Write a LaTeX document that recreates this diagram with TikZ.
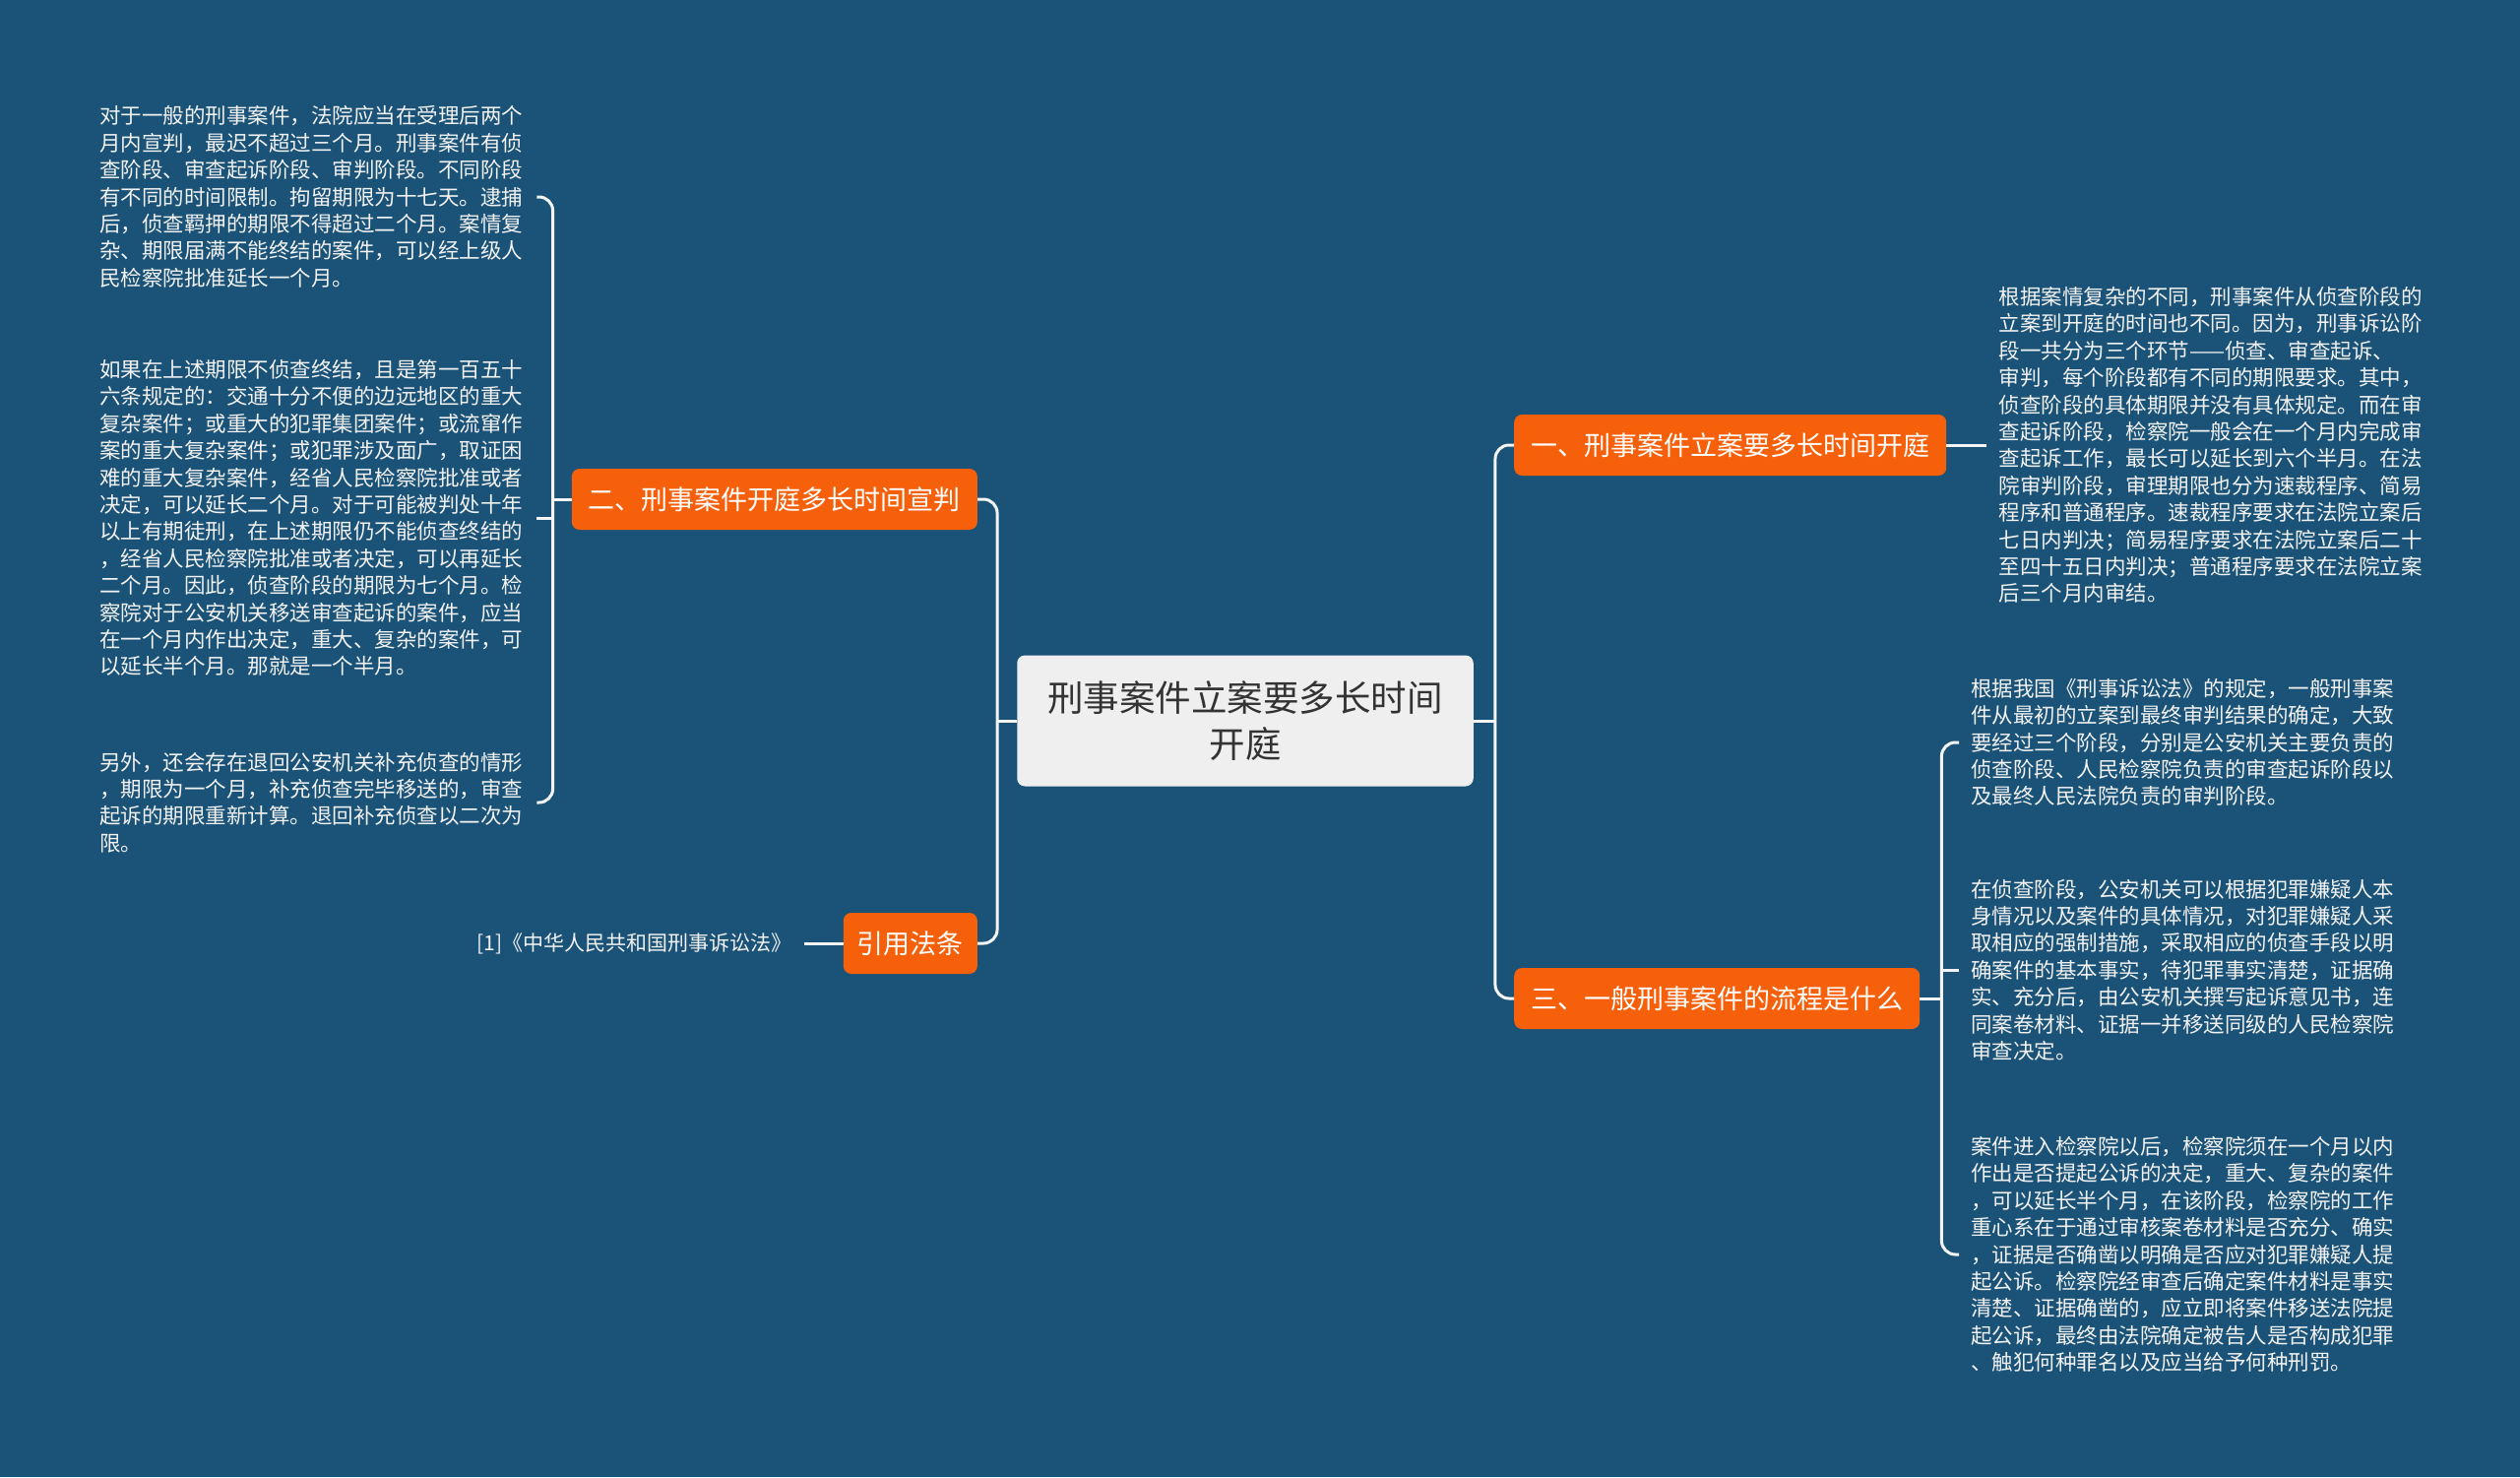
\documentclass[tikz,border=0pt]{standalone}
\usepackage{fontspec}
\setmainfont{Noto Sans CJK SC}
\usetikzlibrary{positioning}

\definecolor{fond}{HTML}{1B5378}
\definecolor{branchorange}{HTML}{F7600B}
\definecolor{rootgray}{HTML}{EFEFEF}
\definecolor{linkwhite}{HTML}{F4F4F4}

\tikzset{
  rootbox/.style={fill=rootgray, rounded corners=8pt, text=black!80, align=center,
    inner xsep=31pt, minimum height=133pt, font=\fontsize{36.5}{47}\selectfont},
  branchbox/.style={fill=branchorange, rounded corners=8pt, text=white,
    inner xsep=17pt, minimum height=62pt, font=\fontsize{27}{32}\selectfont},
  leafbox/.style={text=white!95!black, align=left, text width=432pt,
    inner xsep=12pt, inner ysep=0pt, font=\fontsize{21.5}{27.4}\selectfont},
  citebox/.style={text=white!95!black, inner xsep=12pt, font=\fontsize{21}{26}\selectfont},
  link/.style={draw=linkwhite, line width=3pt},
}

\begin{document}
\begin{tikzpicture}[x=1pt,y=-1pt]

\useasboundingbox (0,0) rectangle (2560,1500);
\fill[fond] (0,0) rectangle (2560,1500);

% Racine
\node[rootbox] (root) at (1265,732) {刑事案件立案要多长时间\\开庭};

% Branches
\node[branchbox, anchor=east] (b2) at (993,507) {二、刑事案件开庭多长时间宣判};
\node[branchbox, anchor=east, inner xsep=14pt] (law) at (993,958) {引用法条};
\node[branchbox, anchor=west] (b1) at (1538,452) {一、刑事案件立案要多长时间开庭};
\node[branchbox, anchor=west] (b3) at (1538,1014) {三、一般刑事案件的流程是什么};

% Feuilles gauche
\node[leafbox, anchor=west] (l1) at (89,200) {对于一般的刑事案件，法院应当在受理后两个\\
月内宣判，最迟不超过三个月。刑事案件有侦\\
查阶段、审查起诉阶段、审判阶段。不同阶段\\
有不同的时间限制。拘留期限为十七天。逮捕\\
后，侦查羁押的期限不得超过二个月。案情复\\
杂、期限届满不能终结的案件，可以经上级人\\
民检察院批准延长一个月。};

\node[leafbox, anchor=west] (l2) at (89,526) {如果在上述期限不侦查终结，且是第一百五十\\
六条规定的：交通十分不便的边远地区的重大\\
复杂案件；或重大的犯罪集团案件；或流窜作\\
案的重大复杂案件；或犯罪涉及面广，取证困\\
难的重大复杂案件，经省人民检察院批准或者\\
决定，可以延长二个月。对于可能被判处十年\\
以上有期徒刑，在上述期限仍不能侦查终结的\\
，经省人民检察院批准或者决定，可以再延长\\
二个月。因此，侦查阶段的期限为七个月。检\\
察院对于公安机关移送审查起诉的案件，应当\\
在一个月内作出决定，重大、复杂的案件，可\\
以延长半个月。那就是一个半月。};

\node[leafbox, anchor=west] (l3) at (89,815) {另外，还会存在退回公安机关补充侦查的情形\\
，期限为一个月，补充侦查完毕移送的，审查\\
起诉的期限重新计算。退回补充侦查以二次为\\
限。};

\node[citebox, left=40pt of law] (cite) {[1]《中华人民共和国刑事诉讼法》};

% Feuilles droite
\node[leafbox, right=41pt of b1] (r1) {根据案情复杂的不同，刑事案件从侦查阶段的\\
立案到开庭的时间也不同。因为，刑事诉讼阶\\
段一共分为三个环节——侦查、审查起诉、\\
审判，每个阶段都有不同的期限要求。其中，\\
侦查阶段的具体期限并没有具体规定。而在审\\
查起诉阶段，检察院一般会在一个月内完成审\\
查起诉工作，最长可以延长到六个半月。在法\\
院审判阶段，审理期限也分为速裁程序、简易\\
程序和普通程序。速裁程序要求在法院立案后\\
七日内判决；简易程序要求在法院立案后二十\\
至四十五日内判决；普通程序要求在法院立案\\
后三个月内审结。};

\node[leafbox, anchor=west] (r2) at (1990,754) {根据我国《刑事诉讼法》的规定，一般刑事案\\
件从最初的立案到最终审判结果的确定，大致\\
要经过三个阶段，分别是公安机关主要负责的\\
侦查阶段、人民检察院负责的审查起诉阶段以\\
及最终人民法院负责的审判阶段。};

\node[leafbox, anchor=west] (r3) at (1990,985) {在侦查阶段，公安机关可以根据犯罪嫌疑人本\\
身情况以及案件的具体情况，对犯罪嫌疑人采\\
取相应的强制措施，采取相应的侦查手段以明\\
确案件的基本事实，待犯罪事实清楚，证据确\\
实、充分后，由公安机关撰写起诉意见书，连\\
同案卷材料、证据一并移送同级的人民检察院\\
审查决定。};

\node[leafbox, anchor=west] (r4) at (1990,1274) {案件进入检察院以后，检察院须在一个月以内\\
作出是否提起公诉的决定，重大、复杂的案件\\
，可以延长半个月，在该阶段，检察院的工作\\
重心系在于通过审核案卷材料是否充分、确实\\
，证据是否确凿以明确是否应对犯罪嫌疑人提\\
起公诉。检察院经审查后确定案件材料是事实\\
清楚、证据确凿的，应立即将案件移送法院提\\
起公诉，最终由法院确定被告人是否构成犯罪\\
、触犯何种罪名以及应当给予何种刑罚。};

% Liens racine
\coordinate (lj) at ([xshift=-20pt]root.west);
\coordinate (rj) at ([xshift=22pt]root.east);
\draw[link] (root.west) -- (lj);
\draw[link] (root.east) -- (rj);
\draw[link, rounded corners=14pt] (b2.east) -| (lj) |- (law.east);
\draw[link, rounded corners=14pt] (b1.west) -| (rj) |- (b3.west);

% Liens gauche
\coordinate (lb) at ([xshift=-19pt]b2.west);
\draw[link] (b2.west) -- (lb);
\draw[link, rounded corners=14pt] (l1.east) -| (lb) |- (l3.east);
\draw[link] (l2.east) -- (l2.east -| lb);
\draw[link] (law.west) -- (cite.east);

% Liens droite
\draw[link] (b1.east) -- (r1.west);
\coordinate (rb) at ([xshift=22pt]b3.east);
\draw[link] (b3.east) -- (rb);
\draw[link, rounded corners=14pt] (r2.west) -| (rb) |- (r4.west);
\draw[link] (r3.west) -- (r3.west -| rb);

\end{tikzpicture}
\end{document}
